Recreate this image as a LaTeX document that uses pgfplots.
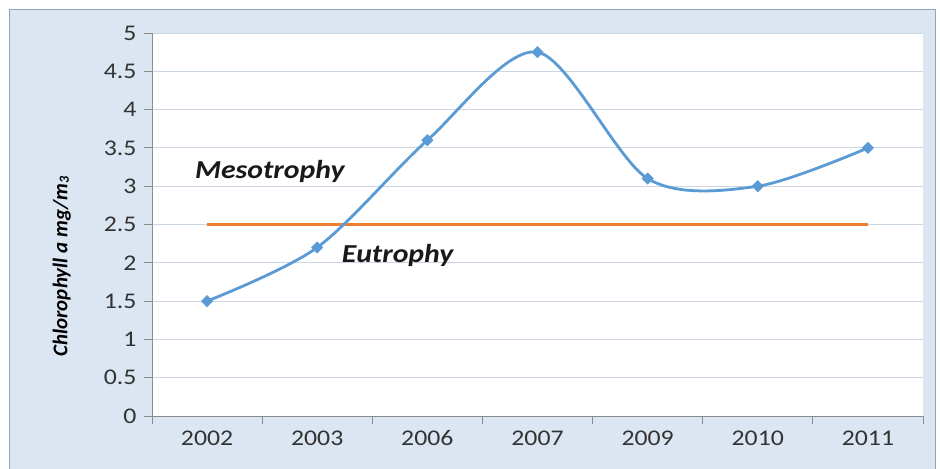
\documentclass[border=0pt]{standalone}
\usepackage{pgfplots}
\pgfplotsset{compat=1.18}
\usepackage{fontspec}
\setmainfont{Carlito}[FakeStretch=1.15]
\newfontfamily\labelfont{Carlito}

\definecolor{chartbg}{HTML}{DCE6F2}
\definecolor{chartborder}{HTML}{8FA4BC}
\definecolor{gridc}{HTML}{CBD5E1}
\definecolor{axisc}{HTML}{8C8C8C}
\definecolor{seriesblue}{HTML}{5B9BD5}
\definecolor{limitorange}{HTML}{ED7D31}
\definecolor{tickc}{HTML}{333333}

\begin{document}
\begin{tikzpicture}[x=1bp,y=1bp]
\useasboundingbox (0,0) rectangle (940,-469);
\fill[white] (0,0) rectangle (940,-469);
\filldraw[fill=chartbg, draw=chartborder, line width=1bp] (9.5,-9.5) rectangle (935,-490);
\begin{axis}[
  at={(152bp,-416bp)}, anchor=south west,
  scale only axis, width=771bp, height=383bp,
  xmin=-0.5, xmax=6.5, ymin=0, ymax=5,
  xtick={0,...,6},
  xticklabels={2002,2003,2006,2007,2009,2010,2011},
  minor xtick={-0.5,0.5,...,6.5},
  ytick={0,0.5,...,5},
  axis x line*=bottom, axis y line*=left,
  axis line style={-, draw=axisc, line width=0.9bp},
  tick align=outside,
  major x tick style={draw=none},
  minor x tick style={draw=axisc, line width=0.9bp},
  major y tick style={draw=axisc, line width=0.9bp},
  major tick length=8bp, minor tick length=8bp,
  ymajorgrids, major grid style={draw=gridc, line width=0.9bp},
  axis background/.style={fill=white},
  tick label style={font=\fontsize{22.5}{22.5}\selectfont, text=tickc},
  /pgf/number format/assume math mode=true,
  yticklabel style={xshift=-4bp},
  xticklabel style={yshift=-3bp},
  ylabel={\labelfont\bfseries\itshape\fontsize{21}{21}\selectfont Chlorophyll a mg/m\raisebox{-1.5bp}{\fontsize{14}{14}\selectfont 3}},
  ylabel style={at={(axis description cs:-0.117,0.39)}, anchor=center, rotate=0, text=black},
  clip=false,
]
% trophic boundary
\addplot[limitorange, line width=2.6bp] coordinates {(0,2.5) (6,2.5)};
% chlorophyll a series
\addplot[seriesblue, line width=2.8bp, smooth, tension=0.5,
  mark=square*, mark size=4bp, mark options={rotate=45, fill=seriesblue, draw=seriesblue, line width=0.5bp}]
  coordinates {(0,1.5) (1,2.2) (2,3.6) (3,4.75) (4,3.1) (5,3.0) (6,3.5)};
\node[font=\fontsize{26}{26}\selectfont\bfseries\itshape, text=black!90] at (axis cs:0.57,3.19) {Mesotrophy};
\node[font=\fontsize{26}{26}\selectfont\bfseries\itshape, text=black!90] at (axis cs:1.73,2.09) {Eutrophy};
\end{axis}
\end{tikzpicture}
\end{document}
